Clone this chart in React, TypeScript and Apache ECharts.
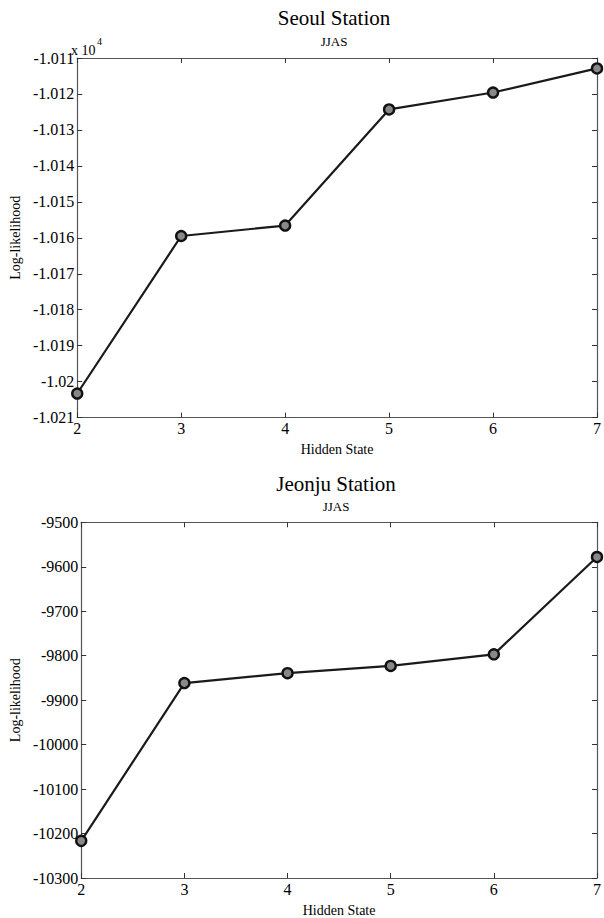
import React, { useEffect, useRef } from "react";
import * as echarts from "echarts";

const hiddenStates = [2, 3, 4, 5, 6, 7];
const seoulLogLik = [-10203.3, -10159.5, -10156.6, -10124.3, -10119.6, -10112.9];
const jeonjuLogLik = [-10216.5, -9861.6, -9839.3, -9823, -9797, -9578];
const seoulTitle = "Seoul Station";
const jeonjuTitle = "Jeonju Station";
const subTitle = "JJAS";
const xName = "Hidden State";
const yName = "Log-likelihood";

const FONT = "Liberation Serif, serif";

export default function App() {
  const ref = useRef<HTMLDivElement>(null);
  useEffect(() => {
    if (!ref.current) return;
    const chart = echarts.init(ref.current, undefined, { renderer: "svg" });
    const axisLine = { show: true, lineStyle: { color: "#555", width: 1.2 } };
    const tick = { show: true, inside: true, length: 5, lineStyle: { color: "#333", width: 1 } };
    const lbl = { color: "#000", fontFamily: FONT, fontSize: 16 };
    const nameStyle = { color: "#000", fontFamily: FONT, fontSize: 14 };
    const mkX = (gi: number) => [
      {
        type: "value", gridIndex: gi, min: 2, max: 7, interval: 1,
        axisLine, axisTick: tick, splitLine: { show: false },
        axisLabel: { ...lbl, margin: 3 },
        name: xName, nameLocation: "middle", nameGap: 25,
        nameTextStyle: nameStyle,
      },
      {
        type: "value", gridIndex: gi, min: 2, max: 7, interval: 1, position: "top",
        axisLine, axisTick: tick, splitLine: { show: false }, axisLabel: { show: false },
      },
    ];
    const seoulFmt = (v: number) => String(parseFloat((v / 10000).toFixed(4)));
    const plainFmt = (v: number) => String(v);
    const yAxes = [
      {
        type: "value", gridIndex: 0, min: -10210, max: -10110, interval: 10,
        axisLine, axisTick: tick, splitLine: { show: false },
        axisLabel: { ...lbl, margin: 3, formatter: seoulFmt },
        name: yName, nameLocation: "middle", nameGap: 55, nameRotate: 90,
        nameTextStyle: nameStyle,
      },
      {
        type: "value", gridIndex: 0, min: -10210, max: -10110, interval: 10, position: "right",
        axisLine, axisTick: tick, splitLine: { show: false }, axisLabel: { show: false },
      },
      {
        type: "value", gridIndex: 1, min: -10300, max: -9500, interval: 100,
        axisLine, axisTick: tick, splitLine: { show: false },
        axisLabel: { ...lbl, margin: 3, formatter: plainFmt },
        name: yName, nameLocation: "middle", nameGap: 58, nameRotate: 90,
        nameTextStyle: nameStyle,
      },
      {
        type: "value", gridIndex: 1, min: -10300, max: -9500, interval: 100, position: "right",
        axisLine, axisTick: tick, splitLine: { show: false }, axisLabel: { show: false },
      },
    ];
    const seriesStyle = {
      type: "line",
      symbol: "circle",
      symbolSize: 10,
      lineStyle: { color: "#1a1a1a", width: 2.2 },
      itemStyle: { color: "#888", borderColor: "#111", borderWidth: 2.4 },
    };
    const txt = (text: string, x: number, y: number, size: number, align = "center") => ({
      type: "text", x, y,
      style: { text, align, verticalAlign: "middle", fontFamily: FONT, fontSize: size, fill: "#000" },
    });
    chart.setOption({
      animation: false,
      textStyle: { fontFamily: FONT },
      grid: [
        { left: 70.7, top: 58, width: 527.6, height: 359.6 },
        { left: 74.7, top: 522.3, width: 523, height: 358.4 },
      ],
      xAxis: [...mkX(0), ...mkX(1)],
      yAxis: yAxes,
      series: [
        {
          ...seriesStyle, xAxisIndex: 0, yAxisIndex: 0,
          data: hiddenStates.map((x, i) => [x, seoulLogLik[i]]),
        },
        {
          ...seriesStyle, xAxisIndex: 2, yAxisIndex: 2,
          data: hiddenStates.map((x, i) => [x, jeonjuLogLik[i]]),
        },
      ],
      graphic: [
        txt(seoulTitle, 334, 18, 21),
        txt(subTitle, 334, 41, 13),
        txt(jeonjuTitle, 336, 484, 21),
        txt(subTitle, 336, 506, 13),
        txt("x 10", 71, 50, 14, "left"),
        txt("4", 97, 41, 10, "left"),
      ],
    });
    return () => chart.dispose();
  }, []);
  return (
    <div
      ref={ref}
      style={{ position: "fixed", left: 0, top: 0, width: 604, height: 918, background: "#fff" }}
    />
  );
}
